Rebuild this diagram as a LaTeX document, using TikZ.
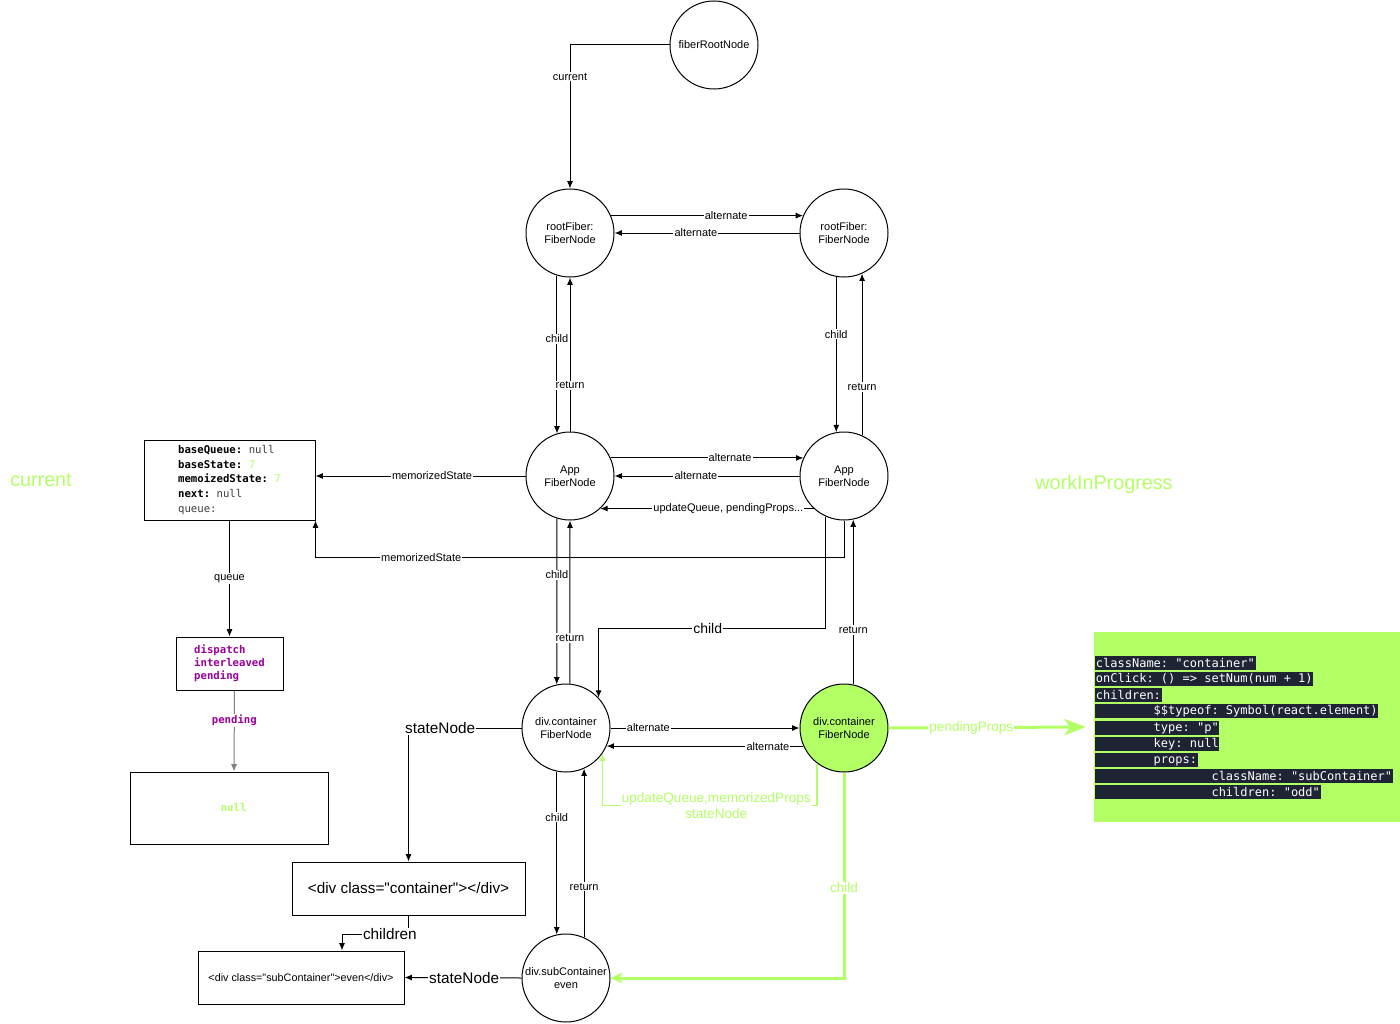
\documentclass[tikz,border=0pt]{standalone}
\usepackage{fontspec}
\setmainfont{Liberation Sans}
\setmonofont{DejaVu Sans Mono}
\usepackage{tikz}
\usetikzlibrary{positioning,calc,arrows.meta}
\definecolor{wipgreen}{RGB}{179,255,102}
\definecolor{hookpurple}{RGB}{153,0,153}
\definecolor{codebg}{RGB}{30,36,51}
\definecolor{valgray}{RGB}{60,60,60}
\tikzstyle{fiber} = [circle, draw, line width=0.75pt, minimum size=66pt, inner sep=0pt,
    align=center, font=\fontsize{8.25}{10}\selectfont]
\tikzstyle{box} = [rectangle, draw, line width=0.75pt, inner sep=0pt]
\tikzstyle{lbl} = [fill=white, inner sep=0.8pt, font=\fontsize{8.25}{10}\selectfont]
\tikzstyle{biglbl} = [fill=white, inner sep=0.8pt, font=\fontsize{11.5}{13}\selectfont]
\tikzstyle{greenlbl} = [fill=white, inner sep=0.8pt, text=wipgreen, align=center,
    font=\fontsize{10.2}{12}\selectfont]
\tikzstyle{codeline} = [fill=codebg, text=white, anchor=west, inner xsep=0.5pt, inner ysep=0pt,
    minimum height=10.6pt, font=\ttfamily\fontsize{9}{11}\selectfont]
\tikzstyle{link} = [->, line width=0.75pt]
\tikzstyle{greenlink} = [wipgreen, line width=2.25pt, -{Stealth[length=9pt,width=8pt,inset=2.5pt]}]

\begin{document}
\begin{tikzpicture}[x=0.75pt, y=-0.75pt, >={Latex[length=5.5pt,width=4.5pt]}]
    \useasboundingbox (0,0) rectangle (1400,1024);

    % Fiber nodes
    \node [fiber] (root) at (714,45) {fiberRootNode};
    \node [fiber] (rfL) at (570,233) {rootFiber:\\FiberNode};
    \node [fiber] (rfR) at (844,233) {rootFiber:\\FiberNode};
    \node [fiber] (appL) at (570,476) {App\\FiberNode};
    \node [fiber] (appR) at (844,476) {App\\FiberNode};
    \node [fiber] (divL) at (566,728) {div.container\\FiberNode};
    \node [fiber, fill=wipgreen] (divR) at (844,728) {div.container\\FiberNode};
    \node [fiber] (divSub) at (566,978) {div.subContainer\\even};

    % Hook and DOM boxes
    \node [box, minimum width=128.25pt, minimum height=60pt, align=left,
        font=\ttfamily\fontsize{8}{10.9}\selectfont, text=valgray] (hook) at (229.5,480)
        {\textbf{\color{black}baseQueue:} null\\
         \textbf{\color{black}baseState:} \textcolor{wipgreen}{7}\\
         \textbf{\color{black}memoizedState:} \textcolor{wipgreen}{7}\\
         \textbf{\color{black}next:} null\\
         queue:};
    \node [box, minimum width=80.25pt, minimum height=39.75pt, align=left, text=hookpurple,
        font=\ttfamily\bfseries\fontsize{8}{9.75}\selectfont] (disp) at (229.5,663.5)
        {dispatch\\interleaved\\pending};
    \node [box, minimum width=148.5pt, minimum height=54pt, text=wipgreen,
        font=\ttfamily\bfseries\fontsize{8}{10}\selectfont] (nullb) at (229,808) {\hspace*{7pt}null};
    \node [box, minimum width=174.75pt, minimum height=39.75pt,
        font=\fontsize{11.5}{13}\selectfont] (cont) at (408.5,888.5)
        {<div class=\textquotedbl container\textquotedbl></div>};
    \node [box, minimum width=154.5pt, minimum height=39.75pt,
        font=\fontsize{8.1}{10}\selectfont] (subb) at (301,977.5)
        {<div class=\textquotedbl subContainer\textquotedbl>even</div>};

    % Props box
    \node [fill=wipgreen, minimum width=229.5pt, minimum height=142.5pt, inner sep=0pt] (props) at (1247,727) {};
    \node [codeline] (p1) at (1095,663) {className: "container"};
    \node [codeline] (p2) at (1095,679) {onClick: () => setNum(num + 1)};
    \node [codeline] (p3) at (1095,695) {children:};
    \node [codeline] (p4) at (1095,711) {\phantom{00000000}\$\$typeof: Symbol(react.element)};
    \node [codeline] (p5) at (1095,728) {\phantom{00000000}type: "p"};
    \node [codeline] (p6) at (1095,744) {\phantom{00000000}key: null};
    \node [codeline] (p7) at (1095,760) {\phantom{00000000}props:};
    \node [codeline] (p8) at (1095,776) {\phantom{0000000000000000}className: "subContainer"};
    \node [codeline] (p9) at (1095,792) {\phantom{0000000000000000}children: "odd"};

    % Side titles
    \node [text=wipgreen, font=\fontsize{14.8}{17}\selectfont] (curT) at (41,480) {current};
    \node [text=wipgreen, font=\fontsize{14.8}{17}\selectfont] (wipT) at (1104,484) {workInProgress};

    % Connections: root
    \draw [link] (root.west) -| node[lbl, pos=0.61] {current} (rfL.north);
    \draw [link] (rfL.23) -- node[lbl, pos=0.6] {alternate} (rfR.157);
    \draw [link] (rfR.west) -- node[lbl, pos=0.56] {alternate} (rfL.east);
    \draw [link] (rfL.-107) -- node[lbl, pos=0.4] {child} (appL.107);
    \draw [link] (appL.north) -- node[lbl, pos=0.3] {return} (rfL.south);
    \draw [link] (rfR.-100) -- node[lbl, pos=0.37] {child} (appR.100);
    \draw [link] (appR.66) -- node[lbl, pos=0.3] {return} (rfR.-66);

    % Connections: App
    \draw [link] (appL.24) -- node[lbl, pos=0.62] {alternate} (appR.156);
    \draw [link] (appR.west) -- node[lbl, pos=0.56] {alternate} (appL.east);
    \draw [link] (appR.-133) -- node[lbl, pos=0.4] {updateQueue, pendingProps...} (appL.-47);
    \draw [link] (appL.west) -- node[lbl, pos=0.445] {memorizedState} (hook.east |- appL.west);
    \draw [link] (appR.south) -- ++(0,37) -| node[lbl, pos=0.4] {memorizedState} (hook.south east);
    \draw [link] (hook.south) -- node[lbl] {queue} (disp.north);
    \draw [link, draw=gray] ($(disp.south)+(5,0)$) -- node[fill=white, inner sep=0.8pt, text=hookpurple,
        font=\ttfamily\bfseries\fontsize{8}{10}\selectfont, pos=0.37] {pending} ($(nullb.north)+(5,0)$);
    \draw [link] (appL.-107) -- node[lbl, pos=0.34] {child} (divL.102);
    \draw [link] (divL.85) -- node[lbl, pos=0.28] {return} (appL.south);
    \draw [link] (appR.-114) -- ++(0,112) -| node[fill=white, inner sep=0.8pt,
        font=\fontsize{10.5}{12}\selectfont, pos=0.26] {child} (divL.43);
    \draw [link] (divR.78) -- node[lbl, pos=0.33] {return} (appR.-78);

    % Connections: div.container
    \draw [link] (divL.east) -- node[lbl, pos=0.2] {alternate} (divR.west);
    \draw [link] (divR.-156) -- node[lbl, pos=0.18] {alternate} (divL.-24);
    \draw [->, wipgreen, line width=1.1pt] (divR.-127) -- ++(0,42) -| node[greenlbl, pos=0.235]
        {updateQueue,memorizedProps\\stateNode} (divL.-35);
    \draw [link] (divL.west) -| node[biglbl, pos=0.36] {stateNode} (cont.north);
    \draw [link] (cont.south) -- ++(0,19) -| node[biglbl, pos=0.14] {children} ($(subb.north)+(41,0)$);
    \draw [link] (divL.-102) -- node[lbl, pos=0.28] {child} (divSub.102);
    \draw [link] (divSub.66) -- node[lbl, pos=0.3] {return} (divL.-66);
    \draw [greenlink] (divR.south) |- node[greenlbl, pos=0.28] {child} (divSub.east);
    \draw [greenlink, -{Stealth[length=16pt,width=12pt,inset=4pt]}] (divR.east) -- node[greenlbl, pos=0.42] {pendingProps} ($(props.west)+(-8,0)$);
    \draw [link] (divSub.west) -- node[biglbl, pos=0.49] {stateNode} (subb.east);

\end{tikzpicture}
\end{document}
